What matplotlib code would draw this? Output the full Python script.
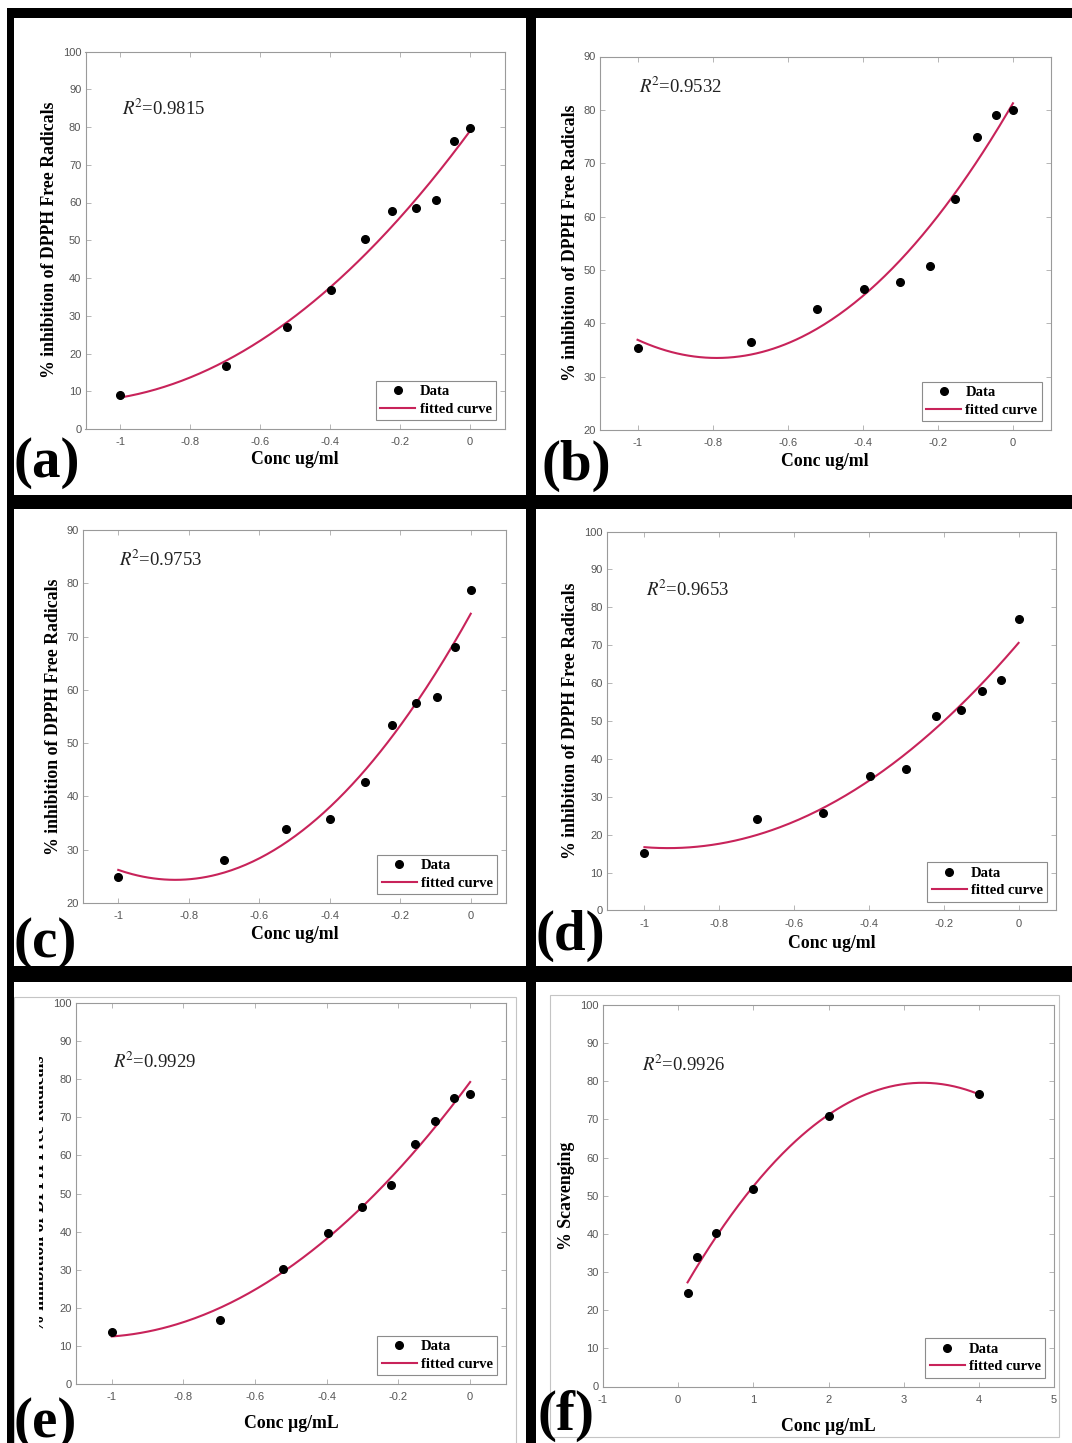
import numpy as np
import matplotlib.pyplot as plt
from matplotlib.patches import Rectangle
from matplotlib.transforms import Bbox

plt.rcParams['axes.unicode_minus'] = False
plt.rcParams['mathtext.fontset'] = 'stix'

# log10 concentrations used in panels a-e
log_conc = [-1.0, -0.699, -0.523, -0.398, -0.301, -0.222, -0.155, -0.097, -0.046, 0.0]

inhib_a = [9.0, 16.8, 26.9, 36.9, 50.3, 57.8, 58.5, 60.6, 76.2, 79.7]
inhib_b = [35.3, 36.4, 42.6, 46.4, 47.8, 50.8, 63.3, 75.0, 79.1, 80.0]
inhib_c = [24.9, 28.1, 33.8, 35.8, 42.7, 53.4, 57.6, 58.6, 68.1, 78.8]
inhib_d = [15.1, 24.1, 25.8, 35.5, 37.4, 51.2, 52.9, 57.8, 60.9, 76.9]
inhib_e = [13.6, 16.8, 30.2, 39.7, 46.4, 52.3, 63.1, 68.9, 75.0, 76.1]

# standard (panel f)
conc_f = [0.125, 0.25, 0.5, 1.0, 2.0, 4.0]
scav_f = [24.4, 33.9, 40.3, 51.9, 70.9, 76.7]

r2_vals = ["0.9815", "0.9532", "0.9753", "0.9653", "0.9929", "0.9926"]
letters = ["(a)", "(b)", "(c)", "(d)", "(e)", "(f)"]

W, H = 1072, 1443
fig = plt.figure(figsize=(W / 100, H / 100), dpi=100)
fig.patch.set_facecolor('white')

serif = ['Liberation Serif', 'DejaVu Serif']
sans = ['Liberation Sans', 'DejaVu Sans']
RED = '#c8235a'


def fx(px):
    return px / W


def fy(py):
    return 1 - py / H


def add_rect(x0, y0, x1, y1, **kw):
    r = Rectangle((fx(x0), fy(y1)), fx(x1) - fx(x0), fy(y0) - fy(y1),
                  transform=fig.transFigure, **kw)
    fig.add_artist(r)


def fmt(v):
    return '%g' % (v + 0.0) if abs(v) > 1e-9 else '0'


# panel layout in pixels: axes box, ylabel right edge, xlabel top, R2 text y, letter pos
panels = [
    dict(x=log_conc, y=inhib_a, box=(85.5, 51.5, 505, 429), ylim=(0, 100),
         ylab_x=58, xlab_y=451, r2_y=0.833, let=(14, 477),
         xlabel='Conc ug/ml', ylabel='% inhibition of DPPH Free Radicals'),
    dict(x=log_conc, y=inhib_b, box=(600, 56.5, 1050.5, 430), ylim=(20, 90),
         ylab_x=579, xlab_y=453, r2_y=0.903, let=(541, 480),
         xlabel='Conc ug/ml', ylabel='% inhibition of DPPH Free Radicals'),
    dict(x=log_conc, y=inhib_c, box=(83, 530, 506, 903), ylim=(20, 90),
         ylab_x=62, xlab_y=926, r2_y=0.903, let=(14, 957),
         xlabel='Conc ug/ml', ylabel='% inhibition of DPPH Free Radicals'),
    dict(x=log_conc, y=inhib_d, box=(607, 531.5, 1056, 910.5), ylim=(0, 100),
         ylab_x=579, xlab_y=935, r2_y=0.83, let=(536, 950),
         xlabel='Conc ug/ml', ylabel='% inhibition of DPPH Free Radicals'),
    dict(x=log_conc, y=inhib_e, box=(76, 1003, 506, 1384), ylim=(0, 100),
         ylab_x=48, xlab_y=1415, r2_y=0.83, let=(14, 1437), clip_ylab=38.5,
         xlabel='Conc µg/mL', ylabel='% inhibition of DPPH Free Radicals'),
    dict(x=conc_f, y=scav_f, box=(603, 1005, 1054, 1386.5), ylim=(0, 100),
         ylab_x=575, xlab_y=1418, r2_y=0.827, let=(538, 1430),
         xlabel='Conc µg/mL', ylabel='% Scavenging'),
]

for i, p in enumerate(panels):
    l, t, r, b = p['box']
    ax = fig.add_axes([fx(l), fy(b), fx(r) - fx(l), fy(t) - fy(b)])
    x = np.array(p['x'])
    y = np.array(p['y'])

    # second-order polynomial fit of the measured points
    coef = np.polyfit(x, y, 2)
    xs = np.linspace(x.min(), x.max(), 200)
    ax.plot(xs, np.polyval(coef, xs), color=RED, lw=1.5, label='fitted curve', zorder=2)
    ax.plot(x, y, 'o', color='black', ms=5.5, label='Data', zorder=3)

    if i < 5:
        ax.set_xlim(-1.1, 0.1)
        xt = np.round(np.arange(-1.0, 0.01, 0.2), 1)
    else:
        ax.set_xlim(-1, 5)
        xt = np.arange(-1, 6)
    ax.set_xticks(xt)
    ax.set_xticklabels([fmt(v) for v in xt])
    ax.set_ylim(*p['ylim'])
    yt = np.arange(p['ylim'][0], p['ylim'][1] + 1, 10)
    ax.set_yticks(yt)
    ax.set_yticklabels([fmt(v) for v in yt])

    for s in ax.spines.values():
        s.set_color('#9a9a9a')
        s.set_linewidth(0.8)
    ax.tick_params(direction='in', top=True, right=True, length=3.5, width=0.6,
                   color='#aaaaaa', labelcolor='#555555', labelsize=8)
    ax.tick_params(axis='x', pad=6)
    ax.tick_params(axis='y', pad=3)
    for lab in ax.get_xticklabels() + ax.get_yticklabels():
        lab.set_family(sans)

    ax.set_xlabel(p['xlabel'], family=serif, fontweight='bold', fontsize=12.8)
    ax.set_ylabel(p['ylabel'], family=serif, fontweight='bold', fontsize=12.8)
    ax.xaxis.set_label_coords(0.5, (b - p['xlab_y']) / (b - t))
    ax.yaxis.set_label_coords((p['ylab_x'] - l) / (r - l), 0.5)
    if 'clip_ylab' in p:
        cx = p['clip_ylab']
        lab = ax.yaxis.label
        lab.set_clip_box(Bbox([[cx, 0], [W, H]]))
        lab.set_clip_on(True)

    ax.text(0.086, p['r2_y'], r'$R^{\!2}$=' + r2_vals[i], transform=ax.transAxes,
            family=serif, fontsize=13.5, color='#222222', va='baseline')

    leg = ax.legend(handles=ax.lines[::-1], loc='lower right',
                    prop=dict(family=serif, weight='bold', size=10.5),
                    frameon=True, fancybox=False, framealpha=1,
                    edgecolor='#8c8c8c', borderpad=0.3, labelspacing=0.3,
                    handlelength=2.4, handletextpad=0.3, borderaxespad=0.6)
    leg.get_frame().set_linewidth(0.8)

    fig.text(fx(p['let'][0]), fy(p['let'][1]), letters[i], family=serif,
             fontweight='bold', fontsize=41, va='baseline', ha='left')

# faint outlines of the two lower images
add_rect(14, 997, 516, 1446, fill=False, ec='#c4c4c4', lw=0.8)
add_rect(550, 995, 1059, 1437, fill=False, ec='#c4c4c4', lw=0.8)

# thick black frame lines between panels
for x0, y0, x1, y1 in [(7, 8, 1072, 18), (7, 8, 14, 1443), (526, 8, 536, 1443),
                       (7, 495, 1072, 509), (7, 966, 1072, 982)]:
    add_rect(x0, y0, x1, y1, color='black', lw=0, zorder=10)

fig.savefig('out.png', dpi=100)
